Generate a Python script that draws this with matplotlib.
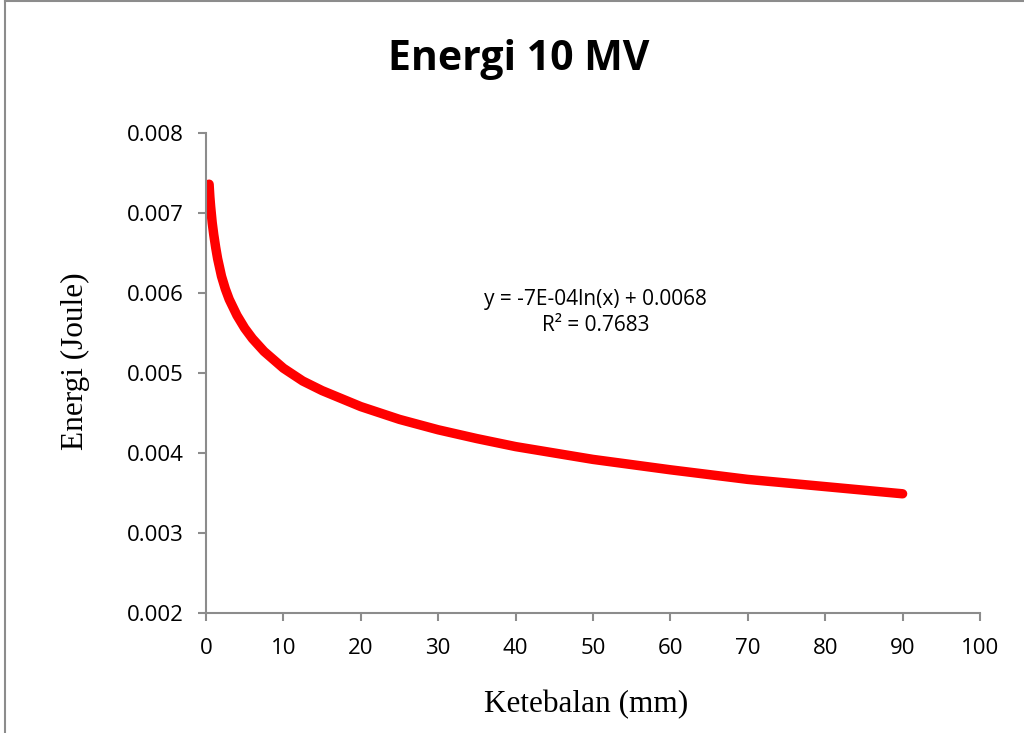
import matplotlib
matplotlib.use("Agg")
import matplotlib.pyplot as plt
from matplotlib.lines import Line2D

# Data (trendline curve)
thickness_mm = [0.4, 0.5, 0.6, 0.8, 1, 1.25, 1.5, 2, 2.5, 3, 4, 5, 6, 7.5, 10, 12.5, 15, 20, 25,
                30, 35, 40, 45, 50, 60, 70, 80, 90]
energy_joule = [0.00736, 0.00720, 0.00708, 0.00688, 0.00673, 0.00657, 0.00643, 0.00621, 0.00605,
                0.00592, 0.00572, 0.00556, 0.00543, 0.00527, 0.00506, 0.00490, 0.00478, 0.00458,
                0.00442, 0.00429, 0.00418, 0.00408, 0.00400, 0.00392, 0.00379, 0.00367,
                0.00358, 0.00349]
x_ticks = [0, 10, 20, 30, 40, 50, 60, 70, 80, 90, 100]
y_ticks = [0.002, 0.003, 0.004, 0.005, 0.006, 0.007, 0.008]
y_tick_labels = ["0.002", "0.003", "0.004", "0.005", "0.006", "0.007", "0.008"]
title = "Energi 10 MV"
xlabel = "Ketebalan (mm)"
ylabel = "Energi (Joule)"
eq_text = "y = -7E-04ln(x) + 0.0068\nR² = 0.7683"

W, H = 1024, 733
fig = plt.figure(figsize=(W / 100, H / 100), dpi=100)
ax = fig.add_axes([206 / W, (H - 613) / H, (980 - 206) / W, (613 - 133) / H])

ax.plot(thickness_mm, energy_joule, color="#FF0000", linewidth=6.8, solid_capstyle="round",
        solid_joinstyle="round")

ax.set_xlim(0, 100)
ax.set_ylim(0.002, 0.008)
ax.set_xticks(x_ticks)
ax.set_yticks(y_ticks)
ax.set_yticklabels(y_tick_labels)
for s in ["top", "right"]:
    ax.spines[s].set_visible(False)
for s in ["left", "bottom"]:
    ax.spines[s].set_color("#8c8c8c")
    ax.spines[s].set_linewidth(1.5)
ax.tick_params(axis="both", direction="out", length=6, width=1.5, color="#8c8c8c",
               labelsize=16)
ax.tick_params(axis="y", pad=10)
ax.tick_params(axis="x", pad=12)
for lab in ax.get_xticklabels() + ax.get_yticklabels():
    lab.set_fontfamily("Open Sans")

ax.set_xlabel(xlabel, fontfamily="Liberation Serif", fontsize=22.5, labelpad=20)
ax.set_ylabel(ylabel, fontfamily="Liberation Serif", fontsize=22.5, labelpad=18)
ax.xaxis.set_label_coords(586 / W, 1 - 705 / H, transform=fig.transFigure)
ax.yaxis.set_label_coords(75 / W, 1 - 361 / H, transform=fig.transFigure)
ax.xaxis.label.set_va("center")
ax.yaxis.label.set_va("center")

fig.text(519 / W, 1 - 60 / H, title, ha="center", va="center", fontfamily="Open Sans",
         fontweight="bold", fontsize=29.5)
ax.text(50.3, 0.00576, eq_text, ha="center", va="center", fontfamily="Open Sans",
        fontsize=15, linespacing=1.3)

# chart border (top and left visible)
fig.add_artist(Line2D([5 / W, 5 / W], [0, 1 - 1 / H], transform=fig.transFigure,
                      color="#8c8c8c", linewidth=1.5))
fig.add_artist(Line2D([5 / W, 1], [1 - 1 / H, 1 - 1 / H], transform=fig.transFigure,
                      color="#8c8c8c", linewidth=1.5))

fig.savefig("out.png", dpi=100)
